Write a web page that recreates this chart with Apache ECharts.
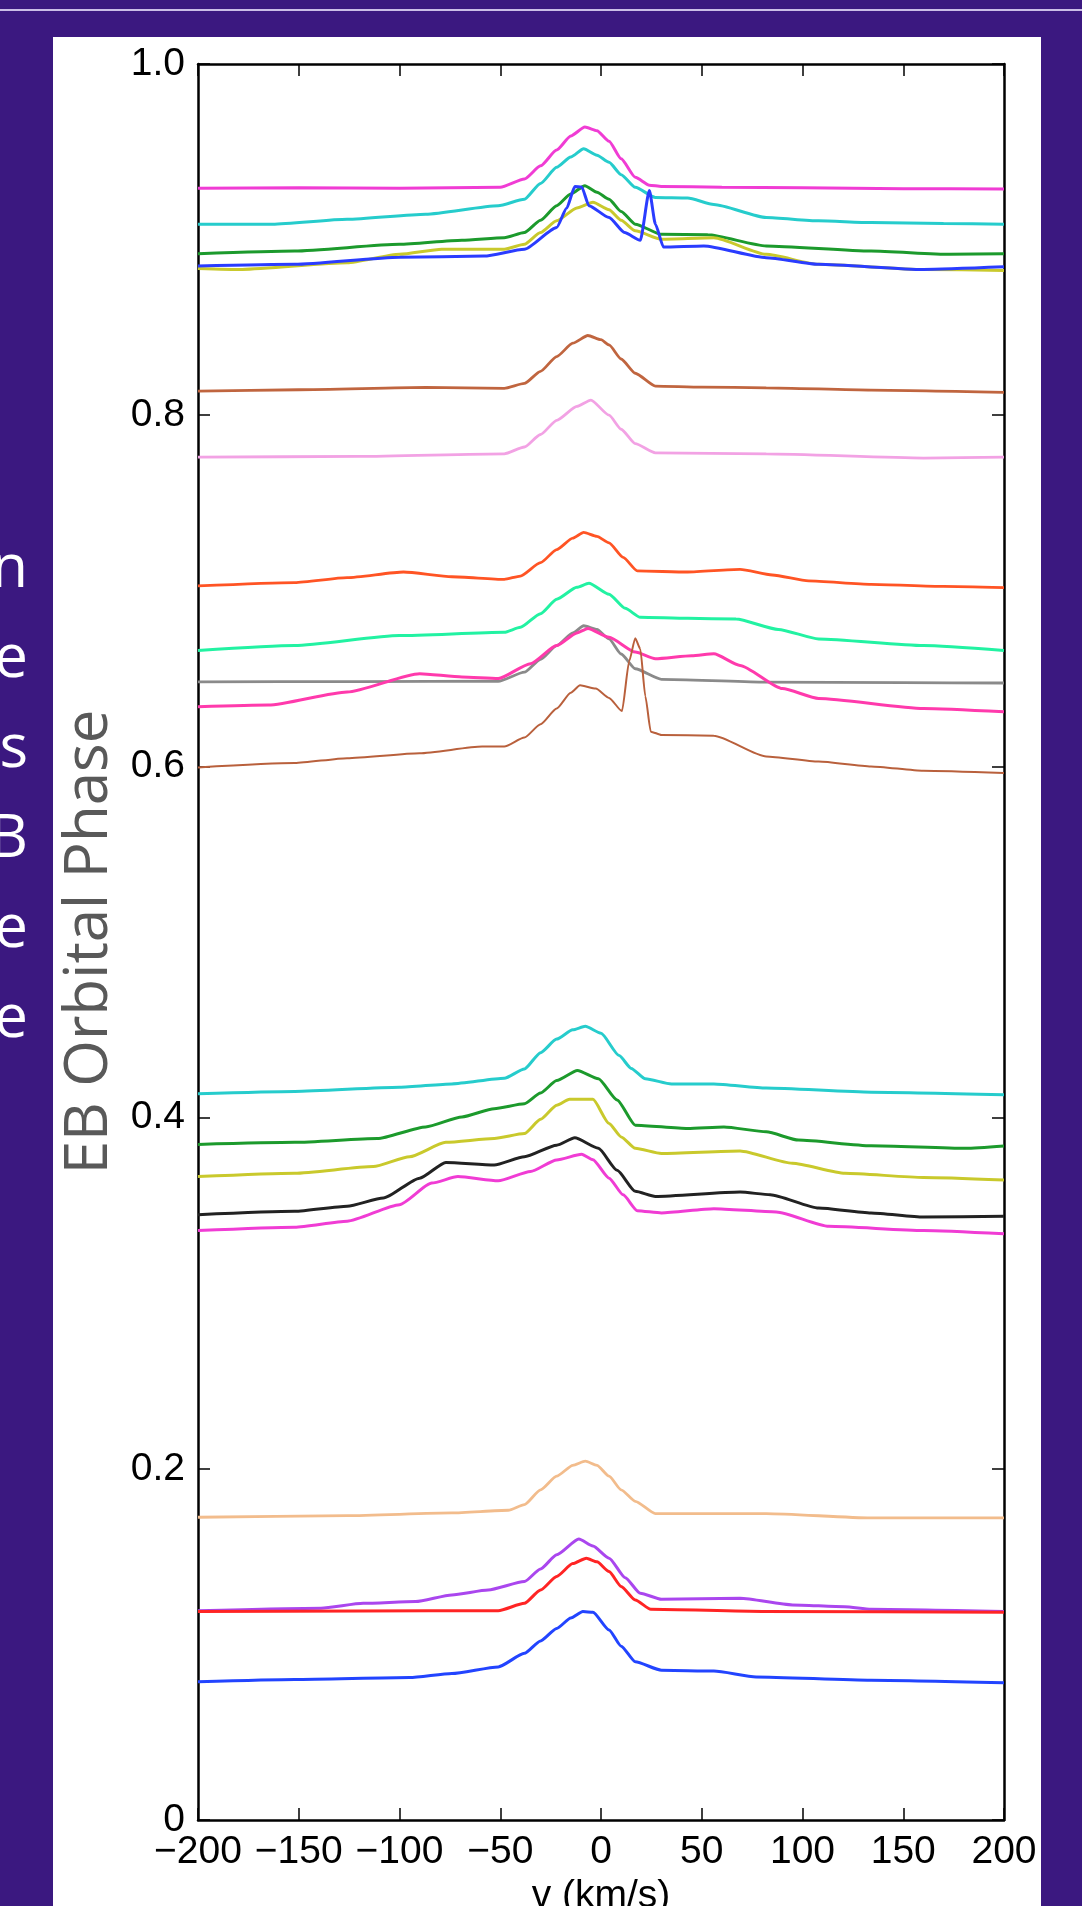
<!DOCTYPE html>
<html>
<head>
<meta charset="utf-8">
<script src="https://cdn.jsdelivr.net/npm/echarts@6/dist/echarts.min.js"></script>
<style>
  html, body { margin: 0; padding: 0; background: #3b1880; }
  #chart { width: 1082px; height: 1906px; }
</style>
</head>
<body>
<div id="chart"></div>
<script>
// 軸刻度
const xTicks = [-200, -150, -100, -50, 0, 50, 100, 150, 200]
const yTicks = [0, 0.2, 0.4, 0.6, 0.8, 1.0]
// 左側切掉的文字
const sideLetters = ['n', 'e', 's', 'B', 'e', 'e']

// 每條譜線 [v (km/s), phase]
const magentaTop = [[-200,0.9292],[-150,0.9295],[-100,0.9293],[-50,0.9298],[-38,0.9345],[-30,0.942],[-22,0.951],[-15,0.959],[-8,0.9641],[-2,0.962],[4,0.956],[10,0.946],[17,0.9355],[24,0.931],[30,0.9303],[60,0.9298],[100,0.9295],[150,0.929],[200,0.9288]]
const cyanTop = [[-200,0.9088],[-163,0.9088],[-126,0.9116],[-87,0.9145],[-51,0.9193],[-38,0.923],[-30,0.932],[-22,0.9412],[-15,0.947],[-8.6,0.9517],[-2,0.948],[4,0.944],[10,0.937],[17,0.9298],[27,0.924],[43,0.9237],[56,0.920],[82,0.9126],[108,0.9107],[134,0.9097],[170,0.9092],[200,0.9088]]
const greenTop = [[-200,0.892],[-152,0.8935],[-100,0.8973],[-69,0.8996],[-48,0.9011],[-38,0.904],[-30,0.911],[-22,0.9193],[-15,0.926],[-8,0.9307],[-2,0.927],[4,0.923],[10,0.916],[17,0.9088],[30,0.903],[53,0.9027],[82,0.8964],[134,0.8935],[173,0.8916],[200,0.892]]
const yellowTop = [[-200,0.8836],[-178,0.883],[-126,0.8868],[-100,0.8916],[-79,0.8945],[-48,0.8945],[-38,0.8973],[-30,0.904],[-22,0.9107],[-12,0.918],[-4,0.9212],[4,0.917],[10,0.911],[17,0.905],[30,0.9002],[56,0.901],[82,0.8916],[108,0.8859],[160,0.883],[200,0.8824]]
const blueTop = [[-200,0.8849],[-152,0.8859],[-100,0.890],[-58,0.8906],[-38,0.8945],[-22,0.9069],[-17,0.918],[-13,0.9302],[-9.6,0.930],[-6,0.9193],[4,0.9126],[11.7,0.904],[19.5,0.8996],[24,0.9279],[27,0.9088],[31,0.8958],[51,0.8964],[82,0.8897],[108,0.8859],[160,0.883],[200,0.8845]]
const siennaTop = [[-200,0.8137],[-150,0.8145],[-87,0.8158],[-48,0.8153],[-38,0.8181],[-30,0.825],[-22,0.8334],[-14,0.841],[-6.5,0.8454],[0,0.843],[4,0.840],[10,0.832],[17,0.8239],[27,0.8166],[50,0.8160],[82,0.8156],[134,0.8143],[200,0.813]]
const orchid = [[-200,0.7761],[-120,0.7765],[-48,0.778],[-38,0.7819],[-30,0.789],[-22,0.7971],[-12,0.805],[-5,0.8086],[4,0.800],[10,0.792],[17,0.7838],[27,0.7786],[82,0.778],[160,0.7756],[200,0.7761]]
const orangeRed = [[-200,0.7028],[-152,0.7047],[-126,0.7075],[-98,0.7107],[-74,0.708],[-48,0.7065],[-40,0.7084],[-30,0.716],[-22,0.7235],[-14,0.730],[-8.6,0.7333],[-2,0.731],[4,0.7273],[11,0.719],[18,0.7113],[43,0.7107],[69,0.7122],[85,0.709],[103,0.7056],[134,0.7037],[170,0.7025],[200,0.7018]]
const springGreen = [[-200,0.666],[-152,0.6688],[-100,0.6745],[-48,0.6764],[-40,0.6792],[-30,0.687],[-22,0.6952],[-12,0.702],[-6,0.7043],[4,0.698],[12,0.690],[19.5,0.6849],[43,0.6843],[67,0.6839],[88,0.678],[108,0.6726],[160,0.6688],[200,0.666]]
const grey = [[-200,0.6481],[-120,0.6483],[-51,0.6485],[-38,0.6537],[-30,0.661],[-22,0.6688],[-14,0.676],[-8.6,0.6801],[-2,0.678],[4,0.6726],[10,0.664],[17,0.6556],[30,0.6496],[80,0.648],[150,0.6477],[200,0.6475]]
const deepPink = [[-200,0.6339],[-165,0.6349],[-126,0.6424],[-90,0.6528],[-69,0.6509],[-51,0.65],[-35,0.6585],[-22,0.6688],[-12,0.676],[-6.5,0.6786],[4,0.6735],[17,0.6651],[27,0.6613],[45,0.663],[56,0.6641],[69,0.6575],[90,0.6443],[108,0.6387],[160,0.633],[200,0.6311]]
const siennaLow = [[-200,0.5994],[-152,0.6019],[-126,0.6047],[-90,0.6075],[-59,0.6113],[-48,0.6113],[-38,0.6164],[-30,0.624],[-22,0.633],[-15,0.642],[-10.4,0.6462],[-2.6,0.6443],[4,0.639],[10.4,0.6315],[14,0.660],[17,0.673],[19.5,0.6669],[22,0.640],[24.7,0.6198],[30,0.6179],[56,0.6175],[82,0.6057],[108,0.6028],[134,0.6],[160,0.5975],[200,0.5962]]
const cyanLow = [[-200,0.4136],[-152,0.4149],[-100,0.4173],[-74,0.4192],[-48,0.4224],[-38,0.4277],[-30,0.437],[-22,0.4447],[-14,0.450],[-7.8,0.452],[0,0.448],[9,0.4353],[15,0.428],[22,0.4221],[35,0.4192],[56,0.4192],[82,0.4168],[134,0.4145],[200,0.413]]
const greenLow = [[-200,0.3847],[-152,0.3859],[-111,0.3881],[-87,0.3947],[-69,0.4004],[-53,0.4051],[-38,0.4079],[-30,0.414],[-22,0.4211],[-11.7,0.4268],[-1.3,0.4221],[8,0.410],[17,0.3957],[43,0.3938],[61,0.3947],[82,0.3919],[98,0.3872],[134,0.384],[181,0.3825],[200,0.3838]]
const yellowLow = [[-200,0.3664],[-152,0.3683],[-113,0.3721],[-95,0.3777],[-77,0.3859],[-53,0.3881],[-38,0.3909],[-30,0.399],[-22,0.407],[-15.6,0.4104],[-4,0.4104],[4,0.3966],[10,0.389],[17,0.3825],[30,0.3796],[69,0.3810],[95,0.374],[121,0.3683],[160,0.3659],[200,0.3645]]
const blackLine = [[-200,0.3447],[-152,0.3466],[-126,0.3495],[-108,0.3542],[-90,0.3655],[-77,0.3745],[-53,0.373],[-38,0.3777],[-22,0.3843],[-13,0.3885],[-1.3,0.3825],[8,0.370],[17,0.358],[27,0.3551],[69,0.3576],[84,0.3561],[108,0.3485],[134,0.3457],[160,0.3434],[200,0.3438]]
const magentaLow = [[-200,0.3357],[-152,0.3376],[-126,0.341],[-100,0.3504],[-84,0.3627],[-71,0.3664],[-51,0.364],[-35,0.3693],[-22,0.3759],[-9.6,0.3791],[-4,0.376],[4,0.3655],[11,0.356],[18,0.347],[30,0.3457],[56,0.3481],[87,0.3463],[113,0.3381],[160,0.3357],[200,0.3338]]
const peach = [[-200,0.1724],[-126,0.1733],[-74,0.1749],[-46,0.1764],[-38,0.1796],[-30,0.188],[-22,0.1958],[-14,0.202],[-7.8,0.2044],[-2,0.202],[4,0.1958],[10,0.188],[17,0.1815],[27,0.1745],[82,0.1745],[134,0.172],[200,0.172]]
const purple = [[-200,0.1192],[-139,0.1206],[-118,0.1234],[-92,0.1244],[-74,0.1282],[-56,0.131],[-38,0.1358],[-30,0.143],[-22,0.151],[-11,0.160],[-4,0.156],[4,0.1491],[12,0.138],[19.5,0.1291],[30,0.1257],[69,0.1263],[95,0.1225],[121,0.1215],[134,0.12],[200,0.1187]]
const red = [[-200,0.1187],[-120,0.119],[-51,0.1192],[-38,0.1234],[-30,0.131],[-22,0.1387],[-14,0.146],[-7.3,0.1491],[-2,0.147],[4,0.1415],[10,0.133],[17,0.1253],[24.7,0.12],[80,0.1188],[200,0.1183]]
const blueLow = [[-200,0.0787],[-152,0.08],[-95,0.0811],[-74,0.0834],[-51,0.0872],[-38,0.0949],[-30,0.102],[-22,0.1091],[-15,0.115],[-9,0.1187],[-4,0.1183],[4,0.1082],[10,0.099],[17,0.0901],[30,0.0853],[56,0.0848],[77,0.0815],[134,0.0796],[200,0.0781]]

// 線條顏色與粗細
const lines = [
  [magentaTop, '#f03cd4', 3],
  [cyanTop, '#26cccc', 3],
  [greenTop, '#1c9a2c', 3],
  [yellowTop, '#c9c92c', 3],
  [blueTop, '#2a3cff', 3],
  [siennaTop, '#c0653f', 2.8],
  [orchid, '#f2a2e4', 2.8],
  [orangeRed, '#ff5424', 2.8],
  [springGreen, '#22f2a2', 3],
  [grey, '#8a8a8a', 2.8],
  [deepPink, '#ff3aac', 3],
  [siennaLow, '#b9603c', 2],
  [cyanLow, '#26cccc', 3],
  [greenLow, '#1c9a2c', 3],
  [yellowLow, '#c9c92c', 3],
  [blackLine, '#222222', 3],
  [magentaLow, '#f03cd4', 3],
  [peach, '#f2bc8c', 2.8],
  [purple, '#aa46ee', 3],
  [red, '#ff2424', 3],
  [blueLow, '#2244ff', 3],
]

const minus = (v) => String(v).replace('-', '\u2212')
const tickFont = { fontFamily: 'Liberation Sans', fontSize: 39, color: '#000' }
const frameLine = { show: true, onZero: false, lineStyle: { color: '#000', width: 2.5 } }
const innerTick = { show: true, inside: true, length: 12, lineStyle: { color: '#000', width: 1.5 } }

let myChart = echarts.init(document.getElementById('chart'), null, { renderer: 'canvas' })
myChart.setOption({
  animation: false,
  backgroundColor: '#3b1880',
  graphic: [
    // 上方細線
    { type: 'rect', shape: { x: 0, y: 9, width: 1082, height: 2 }, style: { fill: '#cbbde8' }, z: -10 },
    // 白色面板
    { type: 'rect', shape: { x: 53, y: 37, width: 988, height: 1900 }, style: { fill: '#ffffff' }, z: -10 },
    ...sideLetters.map((ch, i) => ({
      type: 'text',
      x: 28,
      y: 570 + 90 * i,
      style: {
        text: ch,
        fill: '#ffffff',
        font: '60px "Open Sans"',
        align: 'right',
        verticalAlign: 'middle',
      },
    })),
  ],
  grid: { left: 198, top: 64, width: 806, height: 1756, containLabel: false, outerBoundsMode: 'none' },
  xAxis: [
    {
      type: 'value', min: -200, max: 200, interval: 50, position: 'bottom',
      name: 'v (km/s)', nameLocation: 'middle', nameGap: 57,
      nameTextStyle: { fontFamily: 'Liberation Sans', fontSize: 39, color: '#000' },
      axisLine: frameLine, axisTick: innerTick, splitLine: { show: false },
      axisLabel: { ...tickFont, margin: 13, showMinLabel: true, showMaxLabel: true, formatter: minus },
    },
    {
      type: 'value', min: -200, max: 200, interval: 50, position: 'top',
      axisLine: frameLine, axisTick: innerTick, splitLine: { show: false }, axisLabel: { show: false },
    },
  ],
  yAxis: [
    {
      type: 'value', min: 0, max: 1, interval: 0.2, position: 'left',
      name: 'EB Orbital Phase', nameLocation: 'middle', nameGap: 72,
      nameTextStyle: { fontFamily: 'Open Sans', fontSize: 60, color: '#595959' },
      axisLine: frameLine, axisTick: innerTick, splitLine: { show: false },
      axisLabel: {
        ...tickFont, margin: 13, showMinLabel: true, showMaxLabel: true,
        formatter: (v) => (v === 0 ? '0' : v.toFixed(1)),
      },
    },
    {
      type: 'value', min: 0, max: 1, interval: 0.2, position: 'right',
      axisLine: frameLine, axisTick: innerTick, splitLine: { show: false }, axisLabel: { show: false },
    },
  ],
  series: lines.map(([data, color, width]) => ({
    type: 'line',
    data: data,
    showSymbol: false,
    smooth: 0.2,
    smoothMonotone: 'x',
    lineStyle: { color: color, width: width },
    emphasis: { disabled: true },
  })),
})
</script>
</body>
</html>
